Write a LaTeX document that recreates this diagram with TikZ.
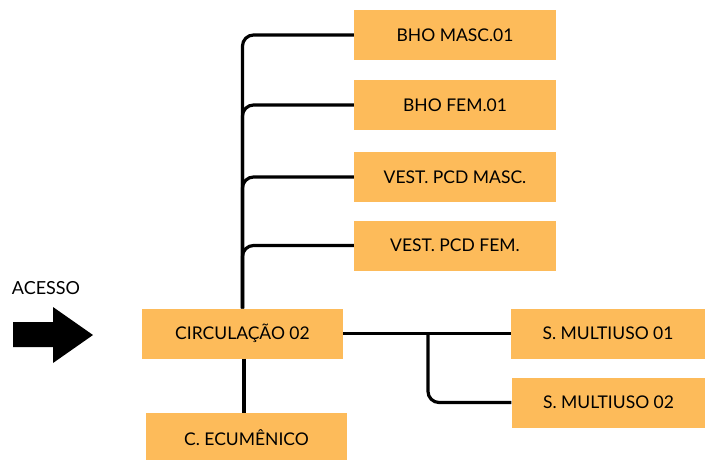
\documentclass[tikz,border=0pt]{standalone}
\usepackage{fontspec}
\setmainfont{Lato}
\usetikzlibrary{positioning, calc}
\definecolor{cbox}{HTML}{FDBB5A}
\definecolor{cline}{HTML}{000000}
\tikzset{
  every picture/.style={x=1pt, y=-1pt},
  room/.style={fill=cbox, draw=none, minimum width=#1, minimum height=50pt, inner sep=0pt, font=\fontsize{17.5}{20}\selectfont},
  room/.default=202pt,
  link/.style={draw=cline, line width=3.2pt, rounded corners=11pt},
  tag/.style={font=\fontsize{18}{20}\selectfont, inner sep=0pt},
}

\begin{document}
\begin{tikzpicture}
  \path[use as bounding box, clip] (0,0) rectangle (705,459);
  % rooms on the left branch
  \node[room] (bhom) at (455,35) {BHO MASC.01};
  \node[room] (bhof) at (455,105) {BHO FEM.01};
  \node[room] (vestm) at (455,177) {VEST. PCD MASC.};
  \node[room] (vestf) at (455,245.5) {VEST. PCD FEM.};
  \node[room=201pt] (circ) at (242.5,333.5) {CIRCULAÇÃO 02};
  \node[room=201pt] (ecum) at (246.5,438) {C. ECUMÊNICO};
  \node[room=194pt] (mult1) at (608,333.5) {S. MULTIUSO 01};
  \node[room=194pt] (mult2) at (608.5,402.5) {S. MULTIUSO 02};
  % access
  \node[tag] (acesso) at (46,288) {ACESSO};
  \fill[cline] (13,322) -- (53,322) -- (53,307) -- (93,335) -- (53,363) -- (53,347) -- (13,347) -- cycle;
  % connectors
  \foreach \r in {bhom,bhof,vestm,vestf}
    \draw[link] (circ.north) |- (\r.west);
  \draw[link] (circ.south -| 244,0) -- (ecum.north -| 244,0);
  \draw[link] (circ.east) -- (mult1.west);
  \coordinate (split) at (428,333.5);
  \draw[link] (split) |- (mult2.west);
\end{tikzpicture}
\end{document}
